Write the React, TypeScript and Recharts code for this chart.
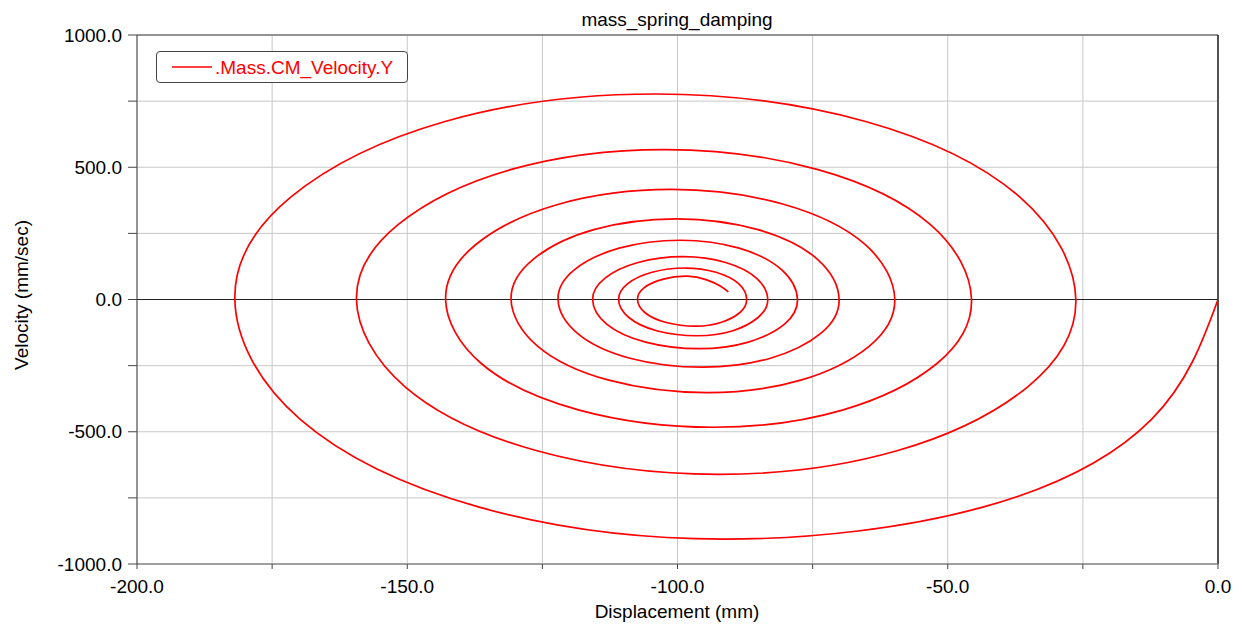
import React from 'react';
import {
  LineChart,
  Line,
  XAxis,
  YAxis,
  CartesianGrid,
  ReferenceLine,
  Legend,
  Label,
} from 'recharts';

const FONT = '"Liberation Sans", Arial, sans-serif';

// phase plot, one row per half turn of the spiral
const displacementMm = [
  0, -12.3, -43.5, -91.5, -136.7, -169.8, -181.9,
  -171.5, -143.0, -104, -65.2, -36.7, -26.3,
  -35.2, -59.4, -92.5, -126.0, -150.4, -159.4,
  -151.7, -130.9, -102.3, -74.0, -53.2, -45.6,
  -52.0, -69.5, -93.4, -118.2, -136.3, -142.9,
  -137.3, -122.0, -101, -80.4, -65.3, -59.8,
  -64.5, -77.2, -94.5, -112.7, -125.9, -130.8,
  -126.7, -115.5, -100.1, -85.1, -74.1, -70.1,
  -73.5, -82.8, -95.4, -108.8, -118.5, -122.1,
  -119.1, -110.8, -99.4, -88.6, -80.7, -77.8,
  -80.2, -86.9, -96, -105.9, -113.1, -115.7,
  -113.4, -107.3, -98.9, -91.1, -85.4, -83.3,
  -85.1, -89.9, -96.4, -103.7, -109.0, -110.9,
  -109.2, -104.7, -98.5, -92.9, -88.7, -87.2,
  -88.5, -92.0, -96.7, -102.1, -106.0, -107.4,
  -106.2, -102.8, -98.2, -94.6, -92.1, -90.6,
];

const velocityMmPerSec = [
  0, -453, -785, -906, -785, -453, 0,
  388, 673, 777, 673, 388, 0,
  -330, -572, -661, -572, -330, 0,
  283, 491, 567, 491, 283, 0,
  -242, -418, -483, -418, -242, 0,
  208, 360, 416, 360, 208, 0,
  -176, -305, -352, -305, -176, 0,
  152, 264, 305, 264, 152, 0,
  -128, -222, -256, -222, -128, 0,
  112, 194, 224, 194, 112, 0,
  -93, -161, -186, -161, -93, 0,
  81, 140, 162, 140, 81, 0,
  -68, -119, -137, -119, -68, 0,
  60, 103, 119, 103, 60, 0,
  -50, -87, -101, -87, -50, 0,
  44, 76, 88, 74, 51, 29,
];

const xTicks = [-200, -175, -150, -125, -100, -75, -50, -25, 0];
const yTicks = [-1000, -750, -500, -250, 0, 250, 500, 750, 1000];

const data = displacementMm.map((x, i) => ({ x, v: velocityMmPerSec[i] }));

const fmtX = (t: number) => (t % 50 === 0 ? t.toFixed(1) : '');
const fmtY = (t: number) => (t % 500 === 0 ? t.toFixed(1) : '');

const LegendBox = () => (
  <div
    style={{
      width: 252,
      height: 32,
      boxSizing: 'border-box',
      border: '1px solid #444',
      borderRadius: 4,
      background: '#fff',
      position: 'relative',
      fontFamily: FONT,
      fontSize: 19,
      color: '#ff0000',
    }}
  >
    <svg width={252} height={32} style={{ position: 'absolute', left: -1, top: -1 }}>
      <line x1={16} x2={56} y1={16} y2={16} stroke="#ff0000" strokeWidth={1.7} />
      <text x={59} y={23} fill="#ff0000" fontSize={19} fontFamily={FONT}>
        .Mass.CM_Velocity.Y
      </text>
    </svg>
  </div>
);

export default function App() {
  return (
    <div style={{ position: 'absolute', left: 0, top: 0, width: 1245, height: 626, background: '#fff' }}>
      <LineChart
        width={1245}
        height={626}
        data={data}
        margin={{ top: 35, right: 27, left: 57, bottom: 32 }}
      >
        <CartesianGrid stroke="#c8c8c8" strokeWidth={1} />
        <XAxis
          type="number"
          dataKey="x"
          domain={[-200, 0]}
          ticks={xTicks}
          interval={0}
          tickFormatter={fmtX}
          height={30}
          tickSize={5}
          tickMargin={11}
          axisLine={{ stroke: '#888', strokeWidth: 1.5 }}
          tickLine={{ stroke: '#444' }}
          tick={{ fill: '#000', fontSize: 19, fontFamily: FONT }}
          allowDataOverflow
        >
          <Label
            content={() => (
              <text x={677} y={618} textAnchor="middle" fill="#000" fontSize={19} fontFamily={FONT}>
                Displacement (mm)
              </text>
            )}
          />
        </XAxis>
        <YAxis
          type="number"
          domain={[-1000, 1000]}
          ticks={yTicks}
          interval={0}
          tickFormatter={fmtY}
          width={80}
          tickSize={9}
          tickMargin={6}
          axisLine={{ stroke: '#444' }}
          tickLine={{ stroke: '#444' }}
          tick={{ fill: '#000', fontSize: 19, fontFamily: FONT }}
          allowDataOverflow
        >
          <Label
            content={() => (
              <text
                x={27.7}
                y={295}
                transform="rotate(-90 27.7 295)"
                textAnchor="middle"
                fill="#000"
                fontSize={19}
                fontFamily={FONT}
              >
                Velocity (mm/sec)
              </text>
            )}
          />
        </YAxis>
        <ReferenceLine y={1000} stroke="#777" strokeWidth={1.5} />
        <ReferenceLine x={0} stroke="#222" strokeWidth={1.5} />
        <ReferenceLine y={0} stroke="#222" strokeWidth={1.2} />
        <Legend
          layout="horizontal"
          verticalAlign="middle"
          align="center"
          wrapperStyle={{ left: 156, top: 51, width: 252, height: 32 }}
          content={() => <LegendBox />}
        />
        <Line
          type="natural"
          dataKey="v"
          stroke="#ff0000"
          strokeWidth={1.7}
          dot={false}
          activeDot={false}
          isAnimationActive={false}
          legendType="line"
          name=".Mass.CM_Velocity.Y"
        />
      </LineChart>
      <svg
        width={1245}
        height={40}
        style={{ position: 'absolute', left: 0, top: 0, pointerEvents: 'none' }}
      >
        <text x={677} y={26} textAnchor="middle" fill="#000" fontSize={19} fontFamily={FONT}>
          mass_spring_damping
        </text>
      </svg>
    </div>
  );
}
